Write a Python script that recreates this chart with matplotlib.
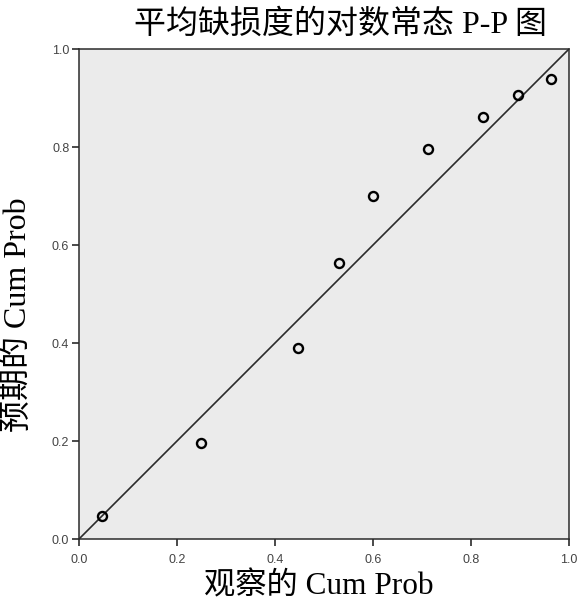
import matplotlib.pyplot as plt

# -------------------------------
# Data
# -------------------------------
observed = [0.047, 0.248, 0.446, 0.531, 0.601, 0.713, 0.825, 0.895, 0.963]
expected = [0.047, 0.195, 0.389, 0.563, 0.699, 0.795, 0.862, 0.907, 0.938]
ref_line = [0.0, 1.0]
ticks = [0.0, 0.2, 0.4, 0.6, 0.8, 1.0]

TITLE = "平均缺损度的对数常态 P-P 图"
XLABEL = "观察的 Cum Prob"
YLABEL = "预期的 Cum Prob"

SERIF_CJK = ["Liberation Serif", "Noto Sans CJK SC"]
TICK_FONT = "Liberation Sans"
BG_COLOR = "#ebebeb"
LINE_COLOR = "#2b2b2b"

# -------------------------------
# Figure
# -------------------------------
fig = plt.figure(figsize=(5.84, 6.06), dpi=100)
ax = fig.add_axes([79 / 584, 67 / 606, 490 / 584, 490 / 606])
ax.set_facecolor(BG_COLOR)

ax.plot(ref_line, ref_line, color=LINE_COLOR, linewidth=1.2, zorder=2)
ax.plot(observed, expected, linestyle="none", marker="o", markersize=6.5,
        markerfacecolor="none", markeredgecolor="black", markeredgewidth=1.7,
        zorder=3)

ax.set_xlim(0, 1)
ax.set_ylim(0, 1)
ax.set_xticks(ticks)
ax.set_yticks(ticks)
ax.set_xticklabels([f"{t:.1f}" for t in ticks], fontfamily=TICK_FONT,
                   fontsize=9, color="#444444")
ax.set_yticklabels([f"{t:.1f}" for t in ticks], fontfamily=TICK_FONT,
                   fontsize=9, color="#444444")
ax.tick_params(direction="out", length=5, width=1.2, color=LINE_COLOR)
ax.tick_params(axis="x", pad=6)
ax.tick_params(axis="y", pad=2)

for spine in ax.spines.values():
    spine.set_color(LINE_COLOR)
    spine.set_linewidth(1.1)

ax.set_xlabel(XLABEL, family=SERIF_CJK, fontsize=22.5)
ax.xaxis.set_label_coords(0.49, -0.068)
ax.set_ylabel(YLABEL, family=SERIF_CJK, fontsize=23)
ax.yaxis.set_label_coords(-0.094, 0.457)

fig.text(341 / 584, 1 - 24 / 606, TITLE, family=SERIF_CJK, fontsize=23,
         ha="center", va="center")

fig.savefig("out.png", dpi=100)
